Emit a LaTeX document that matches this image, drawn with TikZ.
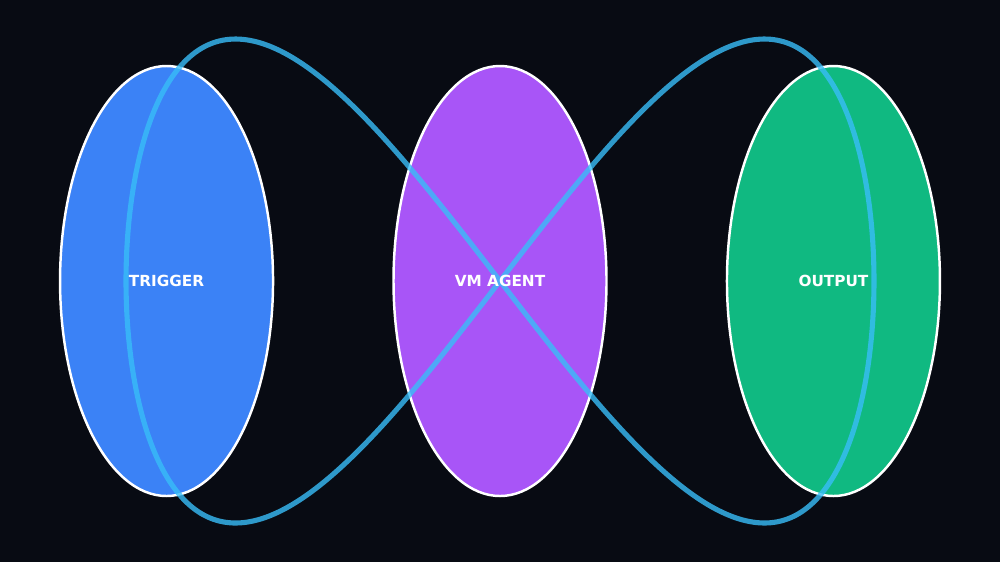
\documentclass[tikz,border=0pt]{standalone}
\usepackage{fontspec}
\setsansfont{DejaVu Sans}
\usepackage{tikz}
\usetikzlibrary{matrix,shapes.geometric}
\definecolor{bgdark}{HTML}{080B13}
\definecolor{trigblue}{HTML}{3B82F6}
\definecolor{agentpurple}{HTML}{A855F7}
\definecolor{outgreen}{HTML}{10B981}
\definecolor{loopsky}{HTML}{38BDF8}
\tikzset{
	stage/.style={ellipse, draw=white, line width=0.7pt, minimum width=2.13cm, minimum height=4.3cm, inner sep=0pt},
	stagelabel/.style={text=white, inner sep=0pt, font=\sffamily\bfseries\fontsize{4.35}{5}\selectfont},
	loopline/.style={draw=loopsky, draw opacity=0.8, line width=1.45pt}
}
\begin{document}
\begin{tikzpicture}
		\fill[bgdark] (0,0) rectangle (10,5.62);
		\useasboundingbox (0,0) rectangle (10,5.62);
		\matrix (m) at (5,2.81) [matrix of nodes, column sep=1.18cm, nodes={stage}]
		{
			|[fill=trigblue]| & |[fill=agentpurple]| & |[fill=outgreen]| \\
		};
		% infinity loop over the three stages
		\begin{scope}[shift={(m-1-2.center)}]
		\draw[loopline] plot[domain=0:360, samples=240, smooth] ({3.74*cos(\x)}, {2.42*sin(2*\x)}) -- cycle;
		\end{scope}
		\node[stagelabel] (trigger) at (m-1-1) {TRIGGER};
		\node[stagelabel] (agent) at (m-1-2) {VM AGENT};
		\node[stagelabel] (output) at (m-1-3) {OUTPUT};
		\end{tikzpicture}
\end{document}
